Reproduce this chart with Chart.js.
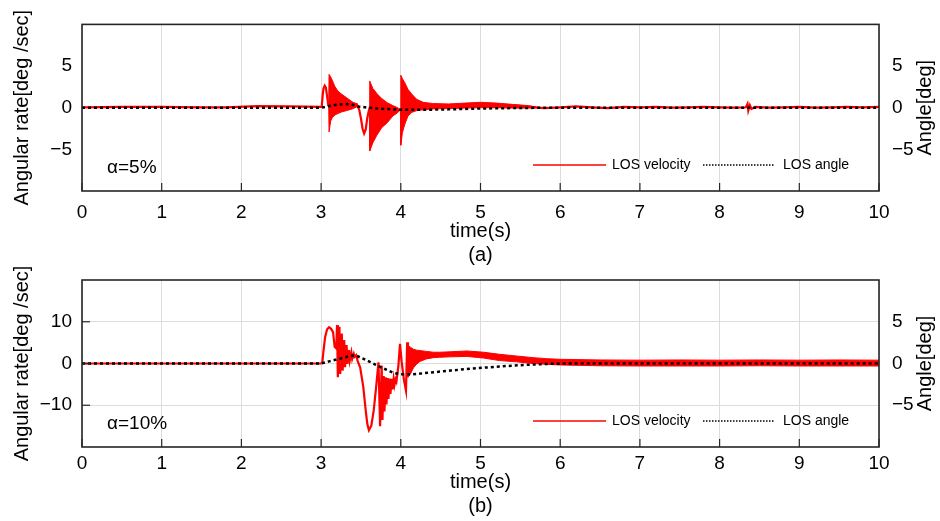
<!DOCTYPE html>
<html lang="en">
<head>
<meta charset="UTF-8">
<title>LOS velocity and LOS angle</title>
<style>
    body { margin: 0; background: #fff; }
    .wrap { position: relative; width: 940px; height: 521px; overflow: hidden; }
    canvas { position: absolute; left: 0; }
    #chartA { top: 0; }
    #chartB { top: 251px; }
</style>
</head>
<body>
<div class="wrap">
    <canvas id="chartA" width="940" height="267"></canvas>
    <canvas id="chartB" width="940" height="267"></canvas>
</div>
<script src="https://cdn.jsdelivr.net/npm/chart.js"></script>
<script>
// tick values
const rateTicksA = [-5, 0, 5];
const rateTicksB = [-10, 0, 10];
const angleTicks = [-5, 0, 5];

// (a) alpha = 5% : LOS velocity [t, deg/s]
const velA = [
    [0, 0.05], [0.5, 0.1], [1, 0.1], [1.5, 0.05], [1.8, 0.05], [2.2, 0.2], [2.6, 0.15], [3.0, 0.1],
    [3.01, 0.4], [3.02, 1.5], [3.03, 2.3], [3.045, 2.65], [3.06, 2.4], [3.075, 1.4], [3.09, 0.3], [3.1, 0.3],
    [3.3, 0.4], [3.45, 0.4],
    [3.48, -0.3], [3.5, -1.3], [3.52, -2.5], [3.54, -3.1], [3.56, -2.6], [3.58, -1.2], [3.6, -0.3], [3.61, 0],
    [3.8, -0.5], [3.97, -0.3], [4.0, -0.2], [4.2, 0.2], [4.4, 0.25],
    [4.6, 0.2], [4.8, 0.3], [5.0, 0.35], [5.2, 0.3], [5.4, 0.2], [5.6, 0.1], [5.8, -0.05], [6.0, 0.05],
    [6.2, 0.15], [6.4, 0.05], [6.6, -0.05], [6.8, 0.1], [7.0, 0.05], [7.2, 0.1], [7.4, 0], [7.6, 0.05],
    [7.8, 0.1], [8.0, 0.05], [8.2, 0], [8.33, 0.05], [8.35, 0.45], [8.36, -0.35], [8.38, 0.3], [8.4, -0.15],
    [8.45, 0.1], [8.6, 0], [8.8, 0.05], [9.0, 0.1], [9.2, 0], [9.4, 0.05], [9.6, 0.1], [9.8, 0.05], [10, 0.1]
];
// dense oscillation bursts [t, upper, lower]
const burstA1 = [[3.095, 0.3, 0.3], [3.1, 4.0, -2.9], [3.12, 3.7, -1.6], [3.14, 3.3, -1.2], [3.17, 2.6, -0.9],
    [3.21, 2.0, -0.7], [3.26, 1.6, -0.5], [3.32, 1.2, -0.35], [3.39, 0.7, -0.15], [3.45, 0.45, 0.1], [3.47, 0.1, 0]];
const burstA2 = [[3.605, -0.2, -0.2], [3.61, 3.2, -5.2], [3.65, 2.3, -4.2], [3.70, 1.7, -3.3], [3.76, 1.1, -2.4],
    [3.83, 0.6, -1.8], [3.90, 0.25, -1.0], [3.96, 0, -0.6], [3.99, -0.2, -0.3]];
const burstA3 = [[3.995, -0.2, -0.2], [4.0, 3.9, -4.5], [4.02, 3.5, -3.0], [4.05, 3.0, -2.0], [4.09, 2.2, -1.0],
    [4.14, 1.6, -0.55], [4.2, 1.0, -0.35], [4.28, 0.65, -0.25], [4.4, 0.5, -0.15], [4.6, 0.45, -0.1],
    [4.8, 0.55, -0.05], [5.0, 0.65, 0], [5.2, 0.55, 0], [5.4, 0.4, -0.05], [5.6, 0.25, -0.05], [5.7, 0.1, 0]];
// LOS angle [t, deg]
const angA = [[0, 0], [3.0, 0], [3.1, 0.2], [3.2, 0.35], [3.3, 0.45], [3.38, 0.4], [3.46, 0.15], [3.6, 0],
    [3.8, -0.15], [4.0, -0.25], [4.3, -0.25], [4.6, -0.2], [5.0, -0.1], [5.5, -0.03], [6, 0], [10, 0]];

// (b) alpha = 10%
const velB = [
    [0, 0], [3.0, 0], [3.015, 0.2], [3.03, 3.0], [3.05, 6.3], [3.075, 8.2], [3.1, 8.7], [3.125, 8.3], [3.15, 7.5],
    [3.17, 4.0], [3.19, 3.6],
    [3.20, 9.2], [3.21, -3.3], [3.23, 8.8], [3.24, -2.5], [3.26, 7.2], [3.27, -1.7], [3.29, 5.6], [3.30, -0.9],
    [3.32, 4.4], [3.33, -0.1], [3.35, 3.2], [3.36, 0.7], [3.38, 2.6], [3.39, 1.1], [3.41, 2.3], [3.42, 1.6], [3.44, 2.0],
    [3.46, 0.5], [3.49, -0.9], [3.53, -5.7], [3.56, -11.3], [3.58, -14.5], [3.6, -16.0], [3.63, -14.9],
    [3.66, -11.3], [3.69, -5.7], [3.72, 0.3],
    [3.74, -15.0], [3.76, -0.5], [3.77, -13.5], [3.785, -3.0], [3.795, -11.5], [3.81, -3.3], [3.82, -9.8],
    [3.835, -3.5], [3.845, -8.5], [3.86, -3.6], [3.87, -7.3], [3.885, -3.7], [3.895, -6.2], [3.91, -3.7],
    [3.92, -5.2], [3.935, -3.8], [3.945, -4.3],
    [3.97, -0.5], [3.99, 4.7], [4.01, 0.5], [4.04, -4.0], [4.065, -6.5], [4.08, 5.1], [4.09, 0.5],
    [4.2, 1.5], [4.4, 2.0], [4.8, 2.3], [5.2, 1.5], [5.6, 0.7], [6.0, 0.4], [7, 0.1], [10, 0.1]
];
const burstB3 = [[4.085, 0.5, 0.5], [4.09, 4.3, -3.3], [4.12, 3.9, -2.5], [4.16, 3.4, -1.0], [4.2, 3.2, -0.1],
    [4.24, 3.1, 0.5], [4.32, 2.9, 1.1], [4.41, 2.7, 1.4], [4.49, 2.7, 1.5], [4.62, 2.8, 1.6], [4.83, 3.0, 1.7],
    [5.04, 2.7, 1.3], [5.24, 2.2, 0.7], [5.45, 1.8, 0.4], [5.66, 1.4, 0], [5.83, 1.15, -0.2], [6.0, 1.0, -0.35],
    [6.5, 0.85, -0.55], [7.0, 0.8, -0.6], [7.5, 0.85, -0.6], [8.0, 0.8, -0.6], [8.5, 0.85, -0.55],
    [9.0, 0.8, -0.6], [9.5, 0.85, -0.6], [10, 0.8, -0.6]];
const angB = [[0, 0], [3.0, 0], [3.1, 0.25], [3.2, 0.5], [3.3, 0.75], [3.4, 0.95], [3.45, 0.9], [3.6, 0.25],
    [3.75, -0.45], [3.9, -1.1], [4.0, -1.3], [4.15, -1.3], [4.3, -1.15], [4.62, -0.85], [4.9, -0.6],
    [5.24, -0.36], [5.5, -0.2], [5.83, -0.05], [6.1, 0], [10, 0]];

Chart.defaults.font.family = '"Liberation Sans", Arial, sans-serif';
Chart.defaults.color = '#000';

const fmt = v => String(v).replace('-', '\u2212');
const pts = (arr, k) => arr.map(p => ({x: p[0], y: p[k]}));

// frame, inner ticks, alpha tag, legend, right axis title
const decor = {
    id: 'decor',
    afterDatasetsDraw(chart, args, opts) {
        const {ctx, chartArea: a, scales} = chart;
        ctx.save();
        ctx.strokeStyle = '#262626';
        ctx.lineWidth = 1.2;
        scales.x.ticks.forEach(t => {
            const px = scales.x.getPixelForValue(t.value);
            ctx.beginPath(); ctx.moveTo(px, a.bottom); ctx.lineTo(px, a.bottom - 8); ctx.stroke();
        });
        if (opts.leftTicks) {
            scales.y.ticks.forEach(t => {
                const py = scales.y.getPixelForValue(t.value);
                ctx.beginPath(); ctx.moveTo(a.left, py); ctx.lineTo(a.left + 8, py); ctx.stroke();
            });
        }
        ctx.lineWidth = 1.6;
        ctx.strokeRect(a.left, a.top, a.right - a.left, a.bottom - a.top);

        ctx.fillStyle = '#000';
        ctx.textBaseline = 'middle';
        ctx.font = '19px "Liberation Sans", Arial, sans-serif';
        ctx.fillText(opts.tag, a.left + 25, a.bottom - 23);

        const ly = a.bottom - 26;
        ctx.font = '14px "Liberation Sans", Arial, sans-serif';
        ctx.strokeStyle = '#ff0000'; ctx.lineWidth = 1.5;
        ctx.beginPath(); ctx.moveTo(a.left + 451, ly); ctx.lineTo(a.left + 524, ly); ctx.stroke();
        ctx.fillText('LOS velocity', a.left + 530, ly);
        ctx.strokeStyle = '#000'; ctx.setLineDash([1.5, 1.5]);
        ctx.beginPath(); ctx.moveTo(a.left + 621, ly); ctx.lineTo(a.left + 693, ly); ctx.stroke();
        ctx.setLineDash([]);
        ctx.fillText('LOS angle', a.left + 701, ly);

        ctx.font = '20px "Liberation Sans", Arial, sans-serif';
        ctx.translate(925, (a.top + a.bottom) / 2);
        ctx.rotate(-Math.PI / 2);
        ctx.textAlign = 'center';
        ctx.fillText('Angle[deg]', 0, 0);
        ctx.restore();
    }
};

function makeChart(id, o) {
    const datasets = [
        {label: 'LOS angle', data: pts(o.ang, 1), yAxisID: 'y2', borderColor: '#000', borderWidth: 2.5,
         borderDash: [3, 3], order: 0},
        {label: 'LOS velocity', data: pts(o.vel, 1), yAxisID: 'y', borderColor: '#ff0000', borderWidth: 2.2, order: 1}
    ];
    o.bursts.forEach(b => {
        datasets.push({data: pts(b, 1), yAxisID: 'y', borderColor: '#ff0000', backgroundColor: '#ff0000',
                       borderWidth: 1, fill: '+1', order: 2});
        datasets.push({data: pts(b, 2), yAxisID: 'y', borderColor: '#ff0000', borderWidth: 1, fill: false, order: 2});
    });

    return new Chart(document.getElementById(id), {
        type: 'line',
        data: {datasets},
        options: {
            responsive: false,
            animation: false,
            events: [],
            elements: {point: {radius: 0}, line: {tension: 0}},
            layout: {padding: {top: o.top, bottom: 0, left: 0, right: 0}},
            plugins: {legend: {display: false}, tooltip: {enabled: false},
                      decor: {tag: o.tag, leftTicks: o.grid}},
            scales: {
                x: {
                    type: 'linear', min: 0, max: 10,
                    ticks: {stepSize: 1, padding: o.xPad, font: {size: 19}, maxRotation: 0},
                    grid: {color: '#dcdcdc', lineWidth: 1, drawTicks: false},
                    border: {display: false},
                    title: {display: true, text: ['time(s)', o.cap], font: {size: 20}, padding: 0},
                    afterFit: s => { s.height = o.xH; }
                },
                y: {
                    position: 'left', min: -o.rateMax, max: o.rateMax,
                    afterBuildTicks: s => { s.ticks = o.rateTicks.map(v => ({value: v})); },
                    ticks: {padding: 10, font: {size: 19}, callback: fmt},
                    grid: {display: o.grid, color: '#dcdcdc', lineWidth: 1, drawTicks: false},
                    border: {display: false},
                    title: {display: true, text: 'Angular rate[deg /sec]', font: {size: 20}, padding: {top: 10, bottom: 0}},
                    afterFit: s => { s.width = 82; }
                },
                y2: {
                    position: 'right', min: -10, max: 10,
                    afterBuildTicks: s => { s.ticks = angleTicks.map(v => ({value: v})); },
                    ticks: {padding: 13, font: {size: 19}, callback: fmt},
                    grid: {display: false, drawTicks: false},
                    border: {display: false},
                    afterFit: s => { s.width = 61; }
                }
            }
        },
        plugins: [decor]
    });
}

makeChart('chartA', {vel: velA, ang: angA, bursts: [burstA1, burstA2, burstA3], rateMax: 10,
    rateTicks: rateTicksA, grid: false, tag: '\u03b1=5%', cap: '(a)', top: 23, xH: 76, xPad: 10});
makeChart('chartB', {vel: velB, ang: angB, bursts: [burstB3], rateMax: 20,
    rateTicks: rateTicksB, grid: true, tag: '\u03b1=10%', cap: '(b)', top: 29, xH: 71, xPad: 5});
</script>
</body>
</html>
